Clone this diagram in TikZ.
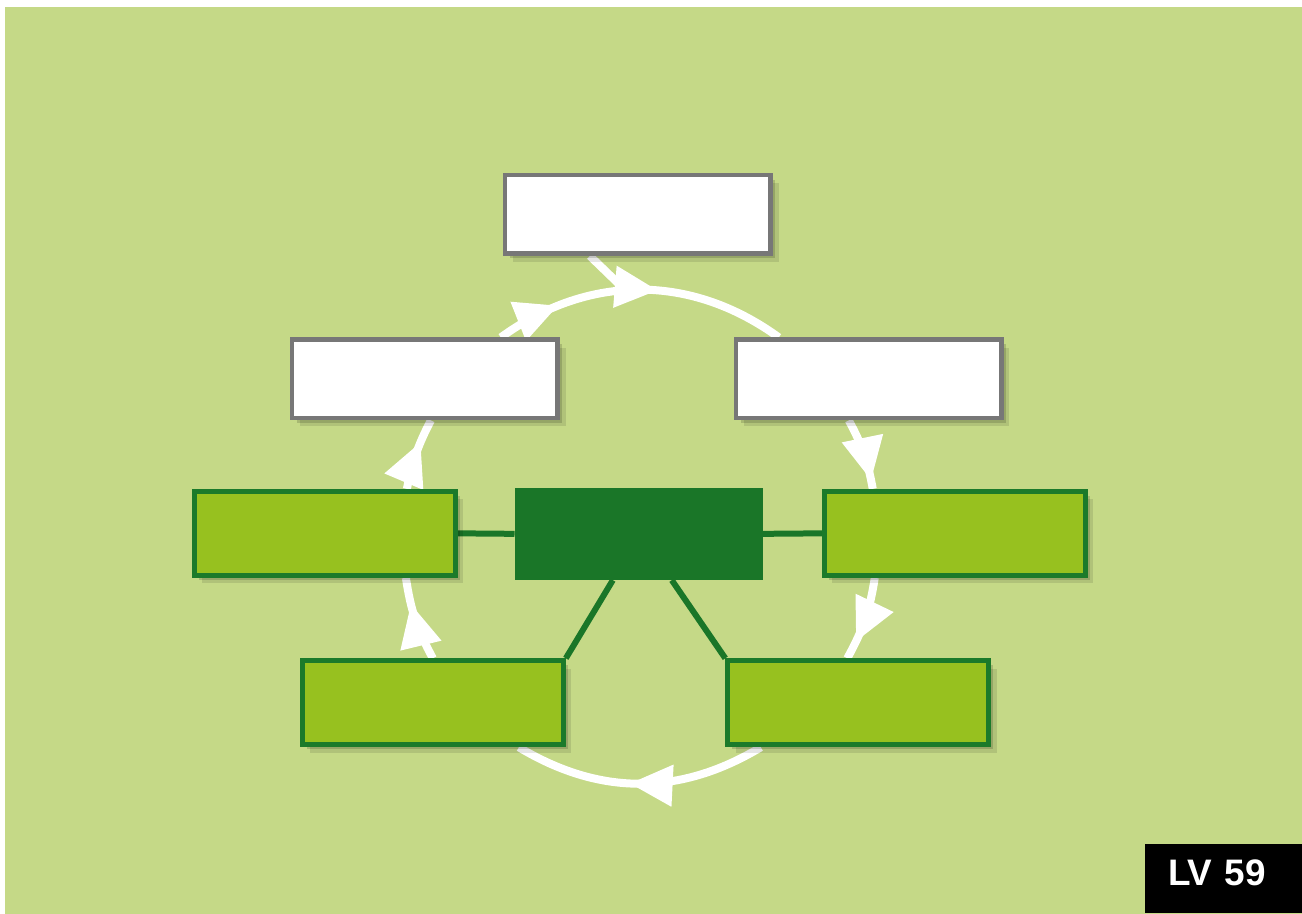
\documentclass[tikz,border=0pt]{standalone}
\usepackage{fontspec}
\setmainfont{Liberation Sans}
\usetikzlibrary{arrows.meta,decorations.markings,shadows,calc}
\definecolor{bg}{HTML}{C5D987}
\definecolor{leaf}{HTML}{97C11F}
\definecolor{forest}{HTML}{1B7A2A}
\definecolor{hub}{HTML}{1A7628}
\definecolor{frame}{HTML}{777777}
\pgfdeclarelayer{back}
\pgfdeclarelayer{under}
\pgfsetlayers{back,under,main}

\begin{document}
\begin{tikzpicture}[x=0.2mm,y=0.2mm,
  wbox/.style={draw=frame,fill=white,line width=0.9mm,inner sep=0pt,
    minimum width=53.1mm,minimum height=15.7mm,
    drop shadow={shadow xshift=1.6mm,shadow yshift=-1.6mm,opacity=0.1,fill=black},
    drop shadow={shadow xshift=0.9mm,shadow yshift=-0.9mm,opacity=0.15,fill=black}},
  gbox/.style={wbox,draw=forest,fill=leaf,line width=1mm,minimum width=52.2mm,minimum height=16.8mm},
  ring/.style={white,line width=1.6mm},
  tip/.style={postaction={decorate,decoration={markings,
    mark=at position #1 with {\arrow[white]{Triangle[length=8.6mm,width=8mm]}}}}},
  spoke/.style={hub,line width=1.2mm}]
  \begin{pgfonlayer}{back}
    \fill[white] (0,0) rectangle (1302,914);
    \fill[bg] (5,0) rectangle (1302,907);
  \end{pgfonlayer}
  \node[wbox] (top) at (638,699.5) {};
  \node[wbox] (lw) at (425,535) {};
  \node[wbox] (rw) at (869,535) {};
  \node[gbox] (lg) at (325,380.5) {};
  \node[gbox] (rg) at (955,380.5) {};
  \node[fill=hub,inner sep=0pt,minimum width=49.6mm,minimum height=18.4mm] (hub) at (639,380) {};
  \node[gbox] (bl) at (433,211) {};
  \node[gbox] (br) at (858.5,211) {};
  \node[fill=black,text=white,anchor=south west,inner sep=0pt,text width=31.4mm,align=left,
    minimum height=13.8mm,text depth=2.6mm,font=\bfseries\fontsize{21}{21}\selectfont] (lv) at (1145,0) {\hspace*{4.6mm}LV 59};
  \coordinate (join) at (620,629);
  \begin{pgfonlayer}{under}
    \draw[ring,tip=0.22,tip=0.56] ($(lw.north)+(76,0)$) to[bend left=36] ($(rw.north)+(-90,0)$);
    \draw[ring] ($(top.south)+(-48,0)$) -- (join);
    \draw[ring,tip=0.88] ($(rw.south)+(-20,0)$) to[bend left=9] ($(rg.north)+(-82,0)$);
    \draw[ring,tip=0.78] ($(rg.south)+(-80,0)$) to[bend left=10] ($(br.north)+(-11,0)$);
    \draw[ring,tip=0.54] ($(br.south)+(-97.5,0)$) to[bend left=31] ($(bl.south)+(86,0)$);
    \draw[ring,tip=0.69] (bl.north) to[bend left=10] ($(lg.south)+(81,0)$);
    \draw[ring,tip=0.67] ($(lg.north)+(82,0)$) to[bend left=8] ($(lw.south)+(6,0)$);
    \draw[spoke] (lg.east) -- (hub.west);
    \draw[spoke] (hub.east) -- (rg.west);
    \draw[spoke] ($(hub.south)+(-26,0)$) -- (bl.north east);
    \draw[spoke] ($(hub.south)+(33,0)$) -- (br.north west);
  \end{pgfonlayer}
\end{tikzpicture}
\end{document}
